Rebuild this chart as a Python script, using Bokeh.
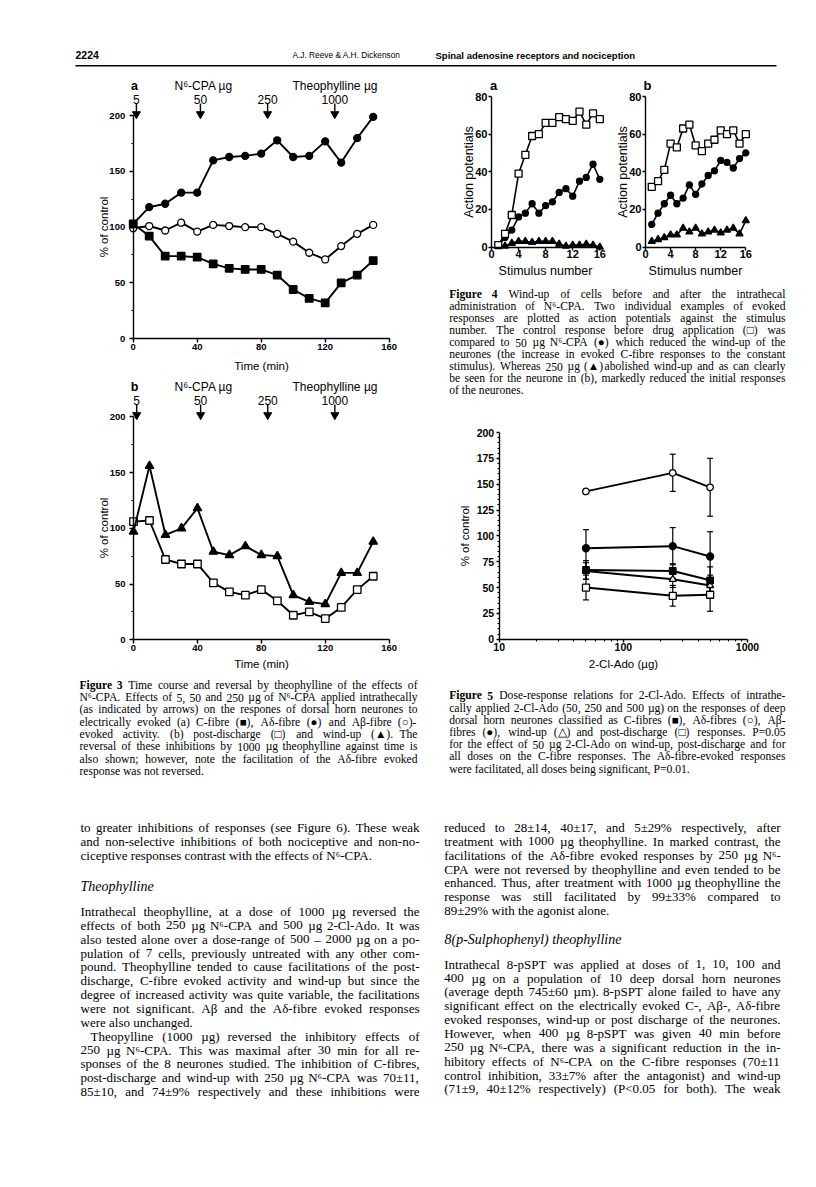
from bokeh.plotting import figure
from bokeh.models import Range1d, LinearAxis, LogAxis, LogScale, FixedTicker, BasicTickFormatter
from bokeh.core.properties import value
from bokeh.embed import file_html
from bokeh.resources import INLINE

# ---------------- data ----------------
time_min = [0, 10, 20, 30, 40, 50, 60, 70, 80, 90, 100, 110, 120, 130, 140, 150]
c_fibre_a = [103, 92, 74, 74, 73, 67, 63, 62, 62, 57, 44, 36, 32, 50, 57, 70]
a_delta_a = [103, 118, 121, 131, 131, 160, 163, 164, 166, 178, 163, 164, 177, 158, 180, 199]
a_beta_a = [99, 101, 97, 104, 96, 102, 101, 100, 100, 94, 87, 77, 71, 83, 94, 102]
post_dis_b = [106, 107, 72, 68, 68, 51, 43, 40, 45, 35, 22, 25, 19, 29, 45, 57]
wind_up_b = [97, 156, 94, 100, 118, 79, 76, 84, 76, 75, 40, 34, 32, 60, 60, 88]
dose_time = [2, 42, 84, 126]
dose_label = ["5", "50", "250", "1000"]
time_ticks = [0, 40, 80, 120, 160]
pct_ticks = [0, 50, 100, 150, 200]
pct_minor = [25, 75, 125, 175]

stim = list(range(1, 17))
control_a = [1, 7, 17, 39, 49, 59, 60, 66, 66, 69, 68, 67, 72, 65, 71, 68]
cpa50_a = [1, 5, 9, 16, 18, 23, 18, 22, 24, 29, 31, 27, 35, 37, 44, 36]
cpa250_a = [0.5, 0.5, 2, 3, 3, 2.5, 3, 3, 3, 1.5, 0.5, 1, 1, 1.5, 1, 0]
control_b = [32, 35, 41, 55, 53, 63, 65, 54, 51, 55, 57, 62, 60, 62, 55, 60]
cpa50_b = [12, 18, 23, 27.5, 23, 26, 33, 28, 33.5, 38, 40.5, 46, 45, 42, 47, 50]
cpa250_b = [3, 4, 5, 6.5, 6.5, 10, 8, 10, 7, 8, 9, 7.5, 9, 10, 7, 14]
stim_ticks = [0, 4, 8, 12, 16]
ap_ticks = [0, 20, 40, 60, 80]

ado_dose = [50, 250, 500]
ado_adelta = [143, 161, 147]
ado_adelta_err = [0, 18, 28]
ado_abeta = [88, 90, 80]
ado_abeta_err = [18, 18, 24]
ado_cfibre = [67, 66, 57]
ado_cfibre_err = [9, 7, 13]
ado_windup = [66, 58, 52]
ado_windup_err = [8, 8, 10]
ado_postdis = [50, 42, 43]
ado_postdis_err = [12, 10, 16]
ado_ticks = [10, 100, 1000]
ado_minor = [20, 30, 40, 50, 60, 70, 80, 90, 200, 300, 400, 500, 600, 700, 800, 900]
pct5_ticks = [0, 25, 50, 75, 100, 125, 150, 175, 200]
pct5_minor = [v for v in range(0, 201, 5) if v % 25]

# ---------------- text ----------------
cap3 = ["Figure 3 Time course and reversal by theophylline of the effects of",
        "N⁶-CPA. Effects of 5, 50 and 250 µg of N⁶-CPA applied intrathecally",
        "(as indicated by arrows) on the respones of dorsal horn neurones to",
        "electrically evoked (a) C-fibre (■), Aδ-fibre (●) and Aβ-fibre (○)-",
        "evoked activity. (b) post-discharge (□) and wind-up (▲). The",
        "reversal of these inhibitions by 1000 µg theophylline against time is",
        "also shown; however, note the facilitation of the Aδ-fibre evoked",
        "response was not reversed."]
cap4 = ["Figure 4 Wind-up of cells before and after the intrathecal",
        "administration of N⁶-CPA. Two individual examples of evoked",
        "responses are plotted as action potentials against the stimulus",
        "number. The control response before drug application (□) was",
        "compared to 50 µg N⁶-CPA (●) which reduced the wind-up of the",
        "neurones (the increase in evoked C-fibre responses to the constant",
        "stimulus). Whereas 250 µg (▲) abolished wind-up and as can clearly",
        "be seen for the neurone in (b), markedly reduced the initial responses",
        "of the neurones."]
cap5 = ["Figure 5 Dose-response relations for 2-Cl-Ado. Effects of intrathe-",
        "cally applied 2-Cl-Ado (50, 250 and 500 µg) on the responses of deep",
        "dorsal horn neurones classified as C-fibres (■), Aδ-fibres (○), Aβ-",
        "fibres (●), wind-up (△) and post-discharge (□) responses. P=0.05",
        "for the effect of 50 µg 2-Cl-Ado on wind-up, post-discharge and for",
        "all doses on the C-fibre responses. The Aδ-fibre-evoked responses",
        "were facilitated, all doses being significant, P=0.01."]
body_l1 = ["to greater inhibitions of responses (see Figure 6). These weak",
           "and non-selective inhibitions of both nociceptive and non-no-",
           "ciceptive responses contrast with the effects of N⁶-CPA."]
head_l = "Theophylline"
body_l2 = ["Intrathecal theophylline, at a dose of 1000 µg reversed the",
           "effects of both 250 µg N⁶-CPA and 500 µg 2-Cl-Ado. It was",
           "also tested alone over a dose-range of 500 – 2000 µg on a po-",
           "pulation of 7 cells, previously untreated with any other com-",
           "pound. Theophylline tended to cause facilitations of the post-",
           "discharge, C-fibre evoked activity and wind-up but since the",
           "degree of increased activity was quite variable, the facilitations",
           "were not significant. Aβ and the Aδ-fibre evoked responses",
           "were also unchanged.",
           "Theopylline (1000 µg) reversed the inhibitory effects of",
           "250 µg N⁶-CPA. This was maximal after 30 min for all re-",
           "sponses of the 8 neurones studied. The inhibition of C-fibres,",
           "post-discharge and wind-up with 250 µg N⁶-CPA was 70±11,",
           "85±10, and 74±9% respectively and these inhibitions were"]
body_r1 = ["reduced to 28±14, 40±17, and 5±29% respectively, after",
           "treatment with 1000 µg theophylline. In marked contrast, the",
           "facilitations of the Aδ-fibre evoked responses by 250 µg N⁶-",
           "CPA were not reversed by theophylline and even tended to be",
           "enhanced. Thus, after treatment with 1000 µg theophylline the",
           "response was still facilitated by 99±33% compared to",
           "89±29% with the agonist alone."]
head_r = "8(p-Sulphophenyl) theophylline"
body_r2 = ["Intrathecal 8-pSPT was applied at doses of 1, 10, 100 and",
           "400 µg on a population of 10 deep dorsal horn neurones",
           "(average depth 745±60 µm). 8-pSPT alone failed to have any",
           "significant effect on the electrically evoked C-, Aβ-, Aδ-fibre",
           "evoked responses, wind-up or post discharge of the neurones.",
           "However, when 400 µg 8-pSPT was given 40 min before",
           "250 µg N⁶-CPA, there was a significant reduction in the in-",
           "hibitory effects of N⁶-CPA on the C-fibre responses (70±11",
           "control inhibition, 33±7% after the antagonist) and wind-up",
           "(71±9, 40±12% respectively) (P<0.05 for both). The weak"]

SERIF = "Liberation Serif"
SANS = "Liberation Sans"

# ---------------- page figure (page pixel coordinates) ----------------
p = figure(width=800, height=1171, x_range=Range1d(8, 808), y_range=Range1d(1179, 8),
           x_axis_type=None, y_axis_type=None, toolbar_location=None, output_backend="svg",
           min_border=0, outline_line_color=None, background_fill_color="white",
           border_fill_color="white")


def lin(p0, v0, p1, v1, pa, pb):
    s = (v1 - v0) / (p1 - p0)
    return Range1d(start=v0 + (pa - p0) * s, end=v0 + (pb - p0) * s)


def logr(p0, l0, p1, l1, pa, pb):
    s = (l1 - l0) / (p1 - p0)
    return Range1d(start=10 ** (l0 + (pa - p0) * s), end=10 ** (l0 + (pb - p0) * s))


p.extra_x_ranges = {
    "x3a": lin(140.7, 0, 396.7, 160, 8, 808),
    "x3b": lin(141.0, 0, 396.7, 160, 8, 808),
    "x4a": lin(499.0, 0, 607.3, 16, 8, 808),
    "x4b": lin(653.0, 0, 753.3, 16, 8, 808),
    "x5": logr(506.7, 1, 755.0, 3, 8, 808),
}
p.extra_x_scales = {"x5": LogScale()}
p.extra_y_ranges = {
    "y3a": lin(346.0, 0, 123.3, 200, 1179, 8),
    "y3b": lin(647.3, 0, 424.3, 200, 1179, 8),
    "y4": lin(254.5, 0, 104.0, 80, 1179, 8),
    "y5": lin(646.7, 0, 440.0, 200, 1179, 8),
}


def style_axis(ax, tick_fs, label_fs, lab_stand, ax_stand, tick_out=4):
    ax.axis_line_color = "black"
    ax.axis_line_width = 1.4
    ax.major_tick_line_color = "black"
    ax.major_tick_line_width = 1.4
    ax.major_tick_out = tick_out
    ax.major_tick_in = 0
    ax.minor_tick_line_color = "black"
    ax.minor_tick_line_width = 1.1
    ax.minor_tick_out = 2
    ax.minor_tick_in = 0
    ax.major_label_text_font = SANS
    ax.major_label_text_font_size = f"{tick_fs}px"
    ax.major_label_text_font_style = "bold"
    ax.major_label_text_color = "black"
    ax.major_label_standoff = lab_stand
    ax.axis_label_text_font = SANS
    ax.axis_label_text_font_size = f"{label_fs}px"
    ax.axis_label_text_font_style = "normal"
    ax.axis_label_text_color = "black"
    ax.axis_label_standoff = ax_stand


def axes(xn, yn, xticks, xminor, xb, yticks, yminor, yb, xlabel, ylabel, xloc, yloc,
         tick_fs, label_fs, xls, xas, yls, yas, tick_out=4, log=False):
    if log:
        xa = LogAxis(x_range_name=xn, y_range_name=yn,
                     ticker=FixedTicker(ticks=xticks, minor_ticks=xminor),
                     formatter=BasicTickFormatter())
    else:
        xa = LinearAxis(x_range_name=xn, y_range_name=yn,
                        ticker=FixedTicker(ticks=xticks, minor_ticks=xminor))
    xa.fixed_location = xloc
    xa.bounds = xb
    xa.axis_label = xlabel
    style_axis(xa, tick_fs, label_fs, xls, xas, tick_out)
    p.add_layout(xa, "below")
    ya = LinearAxis(x_range_name=xn, y_range_name=yn,
                    ticker=FixedTicker(ticks=yticks, minor_ticks=yminor))
    ya.fixed_location = yloc
    ya.bounds = yb
    ya.axis_label = ylabel
    style_axis(ya, tick_fs, label_fs, yls, yas, tick_out)
    p.add_layout(ya, "left")


def series(xn, yn, x, y, marker, filled, size, lw=1.9):
    p.line(x, y, x_range_name=xn, y_range_name=yn, line_color="black", line_width=lw)
    p.scatter(x, y, marker=marker, size=size, x_range_name=xn, y_range_name=yn,
              line_color="black", line_width=1.3,
              fill_color="black" if filled else "white")


def ptext(x, y, t, size, style="normal", align="left", font=SANS, **kw):
    p.text(x=x, y=y, text=t, text_font=value(font), text_font_size=f"{size}px",
           text_font_style=style, text_align=align, text_baseline="middle",
           text_color="black", **kw)


# ---------------- header ----------------
ptext([83], [62.5], ["2224"], 10.5, "bold")
ptext([300], [62.5], ["A.J. Reeve & A.H. Dickenson"], 8.3)
ptext([443], [62.5], ["Spinal adenosine receptors and nociception"], 9.5, "bold")
p.segment(x0=[83], y0=[73.3], x1=[784], y1=[73.3], line_color="black", line_width=1.4)

# ---------------- Figure 3 a / b ----------------
for panel, xn, yn, dy in (("a", "x3a", "y3a", 0), ("b", "x3b", "y3b", 301)):
    ptext([142], [93 + dy], [panel], 12.5, "bold", align="center")
    ptext([182], [93 + dy], ["N⁶-CPA µg"], 12)
    ptext([300], [93 + dy], ["Theophylline µg"], 12)
    p.text(x=dose_time, y=[214.6] * 4, text=dose_label, x_range_name=xn, y_range_name=yn,
           text_font=value(SANS), text_font_size="12px", text_align="center",
           text_baseline="middle", text_color="black")
    p.segment(x0=dose_time, y0=[211] * 4, x1=dose_time, y1=[204] * 4,
              x_range_name=xn, y_range_name=yn, line_color="black", line_width=1.4)
    p.scatter(dose_time, [201.6] * 4, marker="inverted_triangle", size=8,
              x_range_name=xn, y_range_name=yn, line_color="black", fill_color="black")
    axes(xn, yn, time_ticks, [], (0, 160), pct_ticks, pct_minor, (0, 200),
         "Time (min)", "% of control", 0, 0, 9.5, 11.5,
         1, 7 if panel == "a" else 4, 4, -3)

series("x3a", "y3a", time_min, a_beta_a, "circle", False, 7)
series("x3a", "y3a", time_min, a_delta_a, "circle", True, 7)
series("x3a", "y3a", time_min, c_fibre_a, "square", True, 7.5)
series("x3b", "y3b", time_min, post_dis_b, "square", False, 7.5)
series("x3b", "y3b", time_min, wind_up_b, "triangle", True, 8.5)

# ---------------- Figure 4 a / b ----------------
ptext([501], [93], ["a"], 13, "bold", align="center")
ptext([655], [93], ["b"], 13, "bold", align="center")
for xn, ctrl, c50, c250 in (("x4a", control_a, cpa50_a, cpa250_a),
                            ("x4b", control_b, cpa50_b, cpa250_b)):
    axes(xn, "y4", stim_ticks, [], (0, 16), ap_ticks, [], (0, 80),
         "Stimulus number", "Action potentials", 0, 0, 11, 12.5, 0, 2, 1, -4, tick_out=3)
    series(xn, "y4", stim, c250, "triangle", True, 7, lw=1.6)
    series(xn, "y4", stim, c50, "circle", True, 6, lw=1.6)
    series(xn, "y4", stim, ctrl, "square", False, 7, lw=1.6)

# ---------------- Figure 5 ----------------
axes("x5", "y5", ado_ticks, ado_minor, (10, 1000), pct5_ticks, pct5_minor, (0, 200),
     "2-Cl-Ado (µg)", "% of control", 0, 10, 10.5, 11.5, 1, 3, 2, 3, tick_out=3, log=True)
for vals, errs in ((ado_adelta, ado_adelta_err), (ado_abeta, ado_abeta_err),
                   (ado_cfibre, ado_cfibre_err), (ado_windup, ado_windup_err),
                   (ado_postdis, ado_postdis_err)):
    xs = [d for d, e in zip(ado_dose, errs) if e > 0]
    lo = [v - e for v, e in zip(vals, errs) if e > 0]
    hi = [v + e for v, e in zip(vals, errs) if e > 0]
    p.segment(x0=xs, y0=lo, x1=xs, y1=hi, x_range_name="x5", y_range_name="y5",
              line_color="black", line_width=1.2)
    p.scatter(xs + xs, lo + hi, marker="dash", size=6, x_range_name="x5", y_range_name="y5",
              line_color="black", line_width=1.2)
series("x5", "y5", ado_dose, ado_adelta, "circle", False, 6.5)
series("x5", "y5", ado_dose, ado_abeta, "circle", True, 7)
series("x5", "y5", ado_dose, ado_windup, "triangle", False, 7)
series("x5", "y5", ado_dose, ado_cfibre, "square", True, 6.5)
series("x5", "y5", ado_dose, ado_postdis, "square", False, 7)

# ---------------- justified text ----------------
TW = dict(zip("abcdefghijklmnopqrstuvwxyz",
              [444, 500, 444, 500, 444, 333, 500, 500, 278, 278, 500, 278, 778,
               500, 500, 500, 500, 333, 389, 278, 500, 500, 722, 500, 500, 444]))
TW.update(zip("ABCDEFGHIJKLMNOPQRSTUVWXYZ",
              [722, 667, 667, 722, 611, 556, 722, 722, 333, 389, 722, 611, 889,
               722, 722, 556, 722, 667, 556, 611, 722, 722, 944, 722, 722, 611]))
TW.update({d: 500 for d in "0123456789"})
TW.update({" ": 250, ".": 250, ",": 250, ";": 278, ":": 278, "(": 333, ")": 333,
           "-": 333, "%": 833, "±": 564, "=": 564, "<": 564, "–": 500, "µ": 500,
           "δ": 500, "β": 500, "⁶": 320, "■": 700, "●": 700, "○": 700, "□": 700,
           "▲": 700, "△": 700, "&": 778})


def wem(w, bold=False):
    return sum(TW.get(c, 500) for c in w) / 1000 * (1.06 if bold else 1.0)


def fit_fs(blocks, fs_want):
    fs = fs_want
    for lines, x0, x1, ragged, indent in blocks:
        for i, ln in enumerate(lines):
            if i in ragged:
                continue
            ws = ln.split(" ")
            nat = sum(wem(w) for w in ws) + 0.22 * (len(ws) - 1)
            fs = min(fs, (x1 - x0 - indent.get(i, 0)) / nat)
    return fs


def set_block(lines, x0, x1, y0, dy, fs, ragged=(), indent=None, bold_first=0):
    indent = indent or {}
    groups = {}
    for i, ln in enumerate(lines):
        words = ln.split(" ")
        bold = [i == 0 and k < bold_first for k in range(len(words))]
        widths = [wem(w, b) * fs for w, b in zip(words, bold)]
        x = x0 + indent.get(i, 0)
        if i in ragged or len(words) == 1:
            gap = 0.25 * fs
        else:
            gap = (x1 - x - sum(widths)) / (len(words) - 1)
        for w, b, wd in zip(words, bold, widths):
            g = groups.setdefault("bold" if b else "normal", ([], [], []))
            g[0].append(x)
            g[1].append(y0 + i * dy)
            g[2].append(w)
            x += wd + gap
    for st, (xs, ys, ts) in groups.items():
        ptext(xs, ys, ts, round(fs, 2), st, font=SERIF)


cap_blocks = [(cap3, 87, 425, {7}, {}), (cap4, 456.7, 793, {8}, {}), (cap5, 456.7, 793, {6}, {})]
fs_cap = fit_fs(cap_blocks, 11.6)
set_block(cap3, 87, 425, 692.7, 12.35, fs_cap, ragged={7}, bold_first=2)
set_block(cap4, 456.7, 793, 301.7, 12.08, fs_cap, ragged={8}, bold_first=2)
set_block(cap5, 456.7, 793, 703.3, 12.23, fs_cap, ragged={6}, bold_first=2)

body_blocks = [(body_l1, 88, 427, {2}, {}), (body_l2, 88, 427, {8}, {9: 10}),
               (body_r1, 451.7, 788, {6}, {}), (body_r2, 451.7, 788, set(), {})]
fs_body = fit_fs(body_blocks, 13.0)
set_block(body_l1, 88, 427, 835, 13.9, fs_body, ragged={2})
set_block(body_l2, 88, 427, 919, 13.85, fs_body, ragged={8}, indent={9: 10})
set_block(body_r1, 451.7, 788, 835, 13.85, fs_body, ragged={6})
set_block(body_r2, 451.7, 788, 971.7, 13.85, fs_body)
ptext([88], [894], [head_l], 14, "italic", font=SERIF)
ptext([452], [946.7], [head_r], 14, "italic", font=SERIF)

open("out.html", "w").write(file_html(p, INLINE))
